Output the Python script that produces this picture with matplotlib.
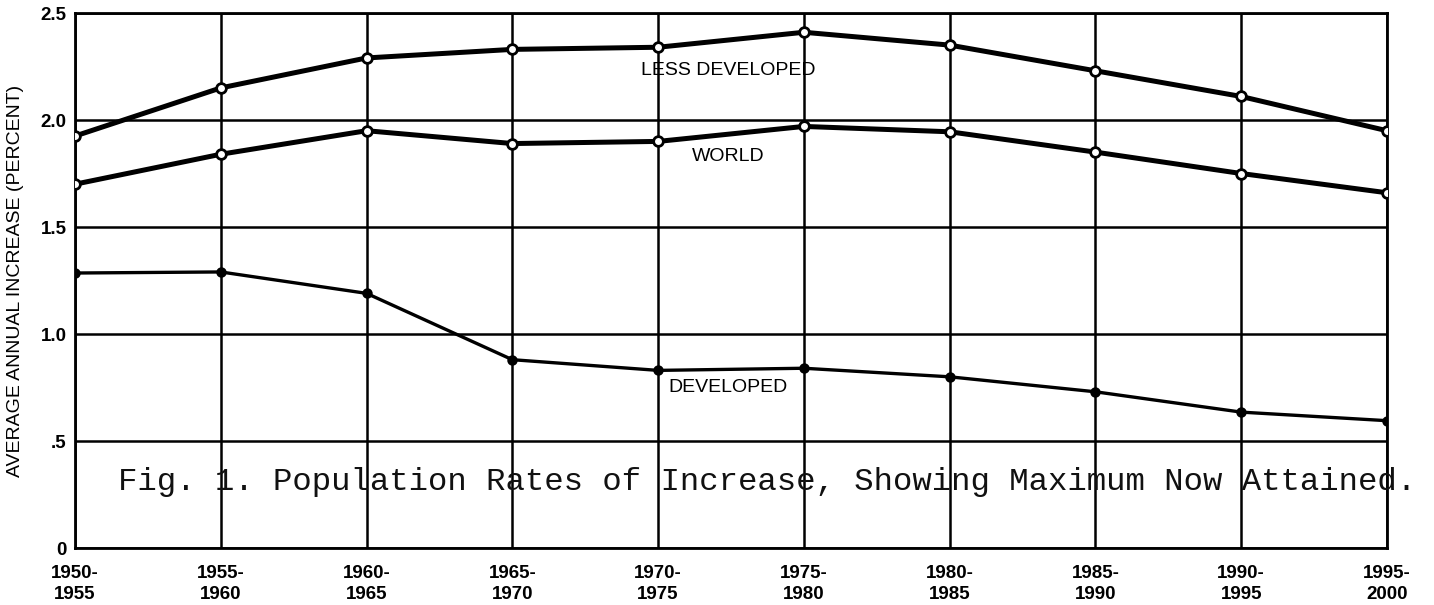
import matplotlib
matplotlib.use("Agg")
from matplotlib import pyplot as plt
import numpy as np

periods = ["1950-\n1955", "1955-\n1960", "1960-\n1965", "1965-\n1970", "1970-\n1975",
           "1975-\n1980", "1980-\n1985", "1985-\n1990", "1990-\n1995", "1995-\n2000"]
less_developed = [1.925, 2.15, 2.29, 2.33, 2.34, 2.41, 2.35, 2.23, 2.11, 1.95]
world = [1.70, 1.84, 1.95, 1.89, 1.90, 1.97, 1.945, 1.85, 1.75, 1.66]
developed = [1.285, 1.29, 1.19, 0.88, 0.83, 0.84, 0.80, 0.73, 0.635, 0.595]
yticks = [0, 0.5, 1.0, 1.5, 2.0, 2.5]
ytick_labels = ["0", ".5", "1.0", "1.5", "2.0", "2.5"]

x = np.arange(len(periods))

fig = plt.figure(figsize=(14.34, 6.05), dpi=100)
ax = fig.add_axes([0.0523, 0.0942, 0.9149, 0.8843])

# grid drawn by hand look: black lines
for xi in x:
    ax.axvline(xi, color="black", lw=1.8, zorder=1)
for yv in yticks:
    ax.axhline(yv, color="black", lw=1.8, zorder=1)

ax.plot(x, less_developed, color="black", lw=3.6, marker="o", ms=7,
        mfc="white", mec="black", mew=2, zorder=3)
ax.plot(x, world, color="black", lw=3.6, marker="o", ms=7,
        mfc="white", mec="black", mew=2, zorder=3)
ax.plot(x, developed, color="black", lw=2.4, marker="o", ms=6,
        mfc="black", mec="black", mew=1.5, zorder=3)

ax.set_xlim(0, 9)
ax.set_ylim(0, 2.5)
ax.set_xticks(x)
ax.set_xticklabels(periods, fontsize=13.5, fontweight="bold",
                   family="Liberation Sans", linespacing=1.35)
ax.set_yticks(yticks)
ax.set_yticklabels(ytick_labels, fontsize=13.5, fontweight="bold",
                   family="Liberation Sans")
ax.tick_params(axis="x", length=0, pad=12)
ax.tick_params(axis="y", length=0, pad=6)
for s in ax.spines.values():
    s.set_linewidth(2)

ax.set_ylabel("AVERAGE ANNUAL INCREASE (PERCENT)", fontsize=14,
              family="Liberation Sans", labelpad=12)

ax.text(4.48, 2.233, "LESS DEVELOPED", ha="center", va="center",
        fontsize=14, family="Liberation Sans")
ax.text(4.48, 1.83, "WORLD", ha="center", va="center",
        fontsize=14, family="Liberation Sans")
ax.text(4.48, 0.752, "DEVELOPED", ha="center", va="center",
        fontsize=14, family="Liberation Sans")

fig.text(118 / 1434, 0.203,
         "Fig. 1. Population Rates of Increase, Showing Maximum Now Attained.",
         ha="left", va="center", fontsize=23.3, family="Liberation Mono", color="#111111")

fig.savefig("out.png", dpi=100, facecolor="white")
